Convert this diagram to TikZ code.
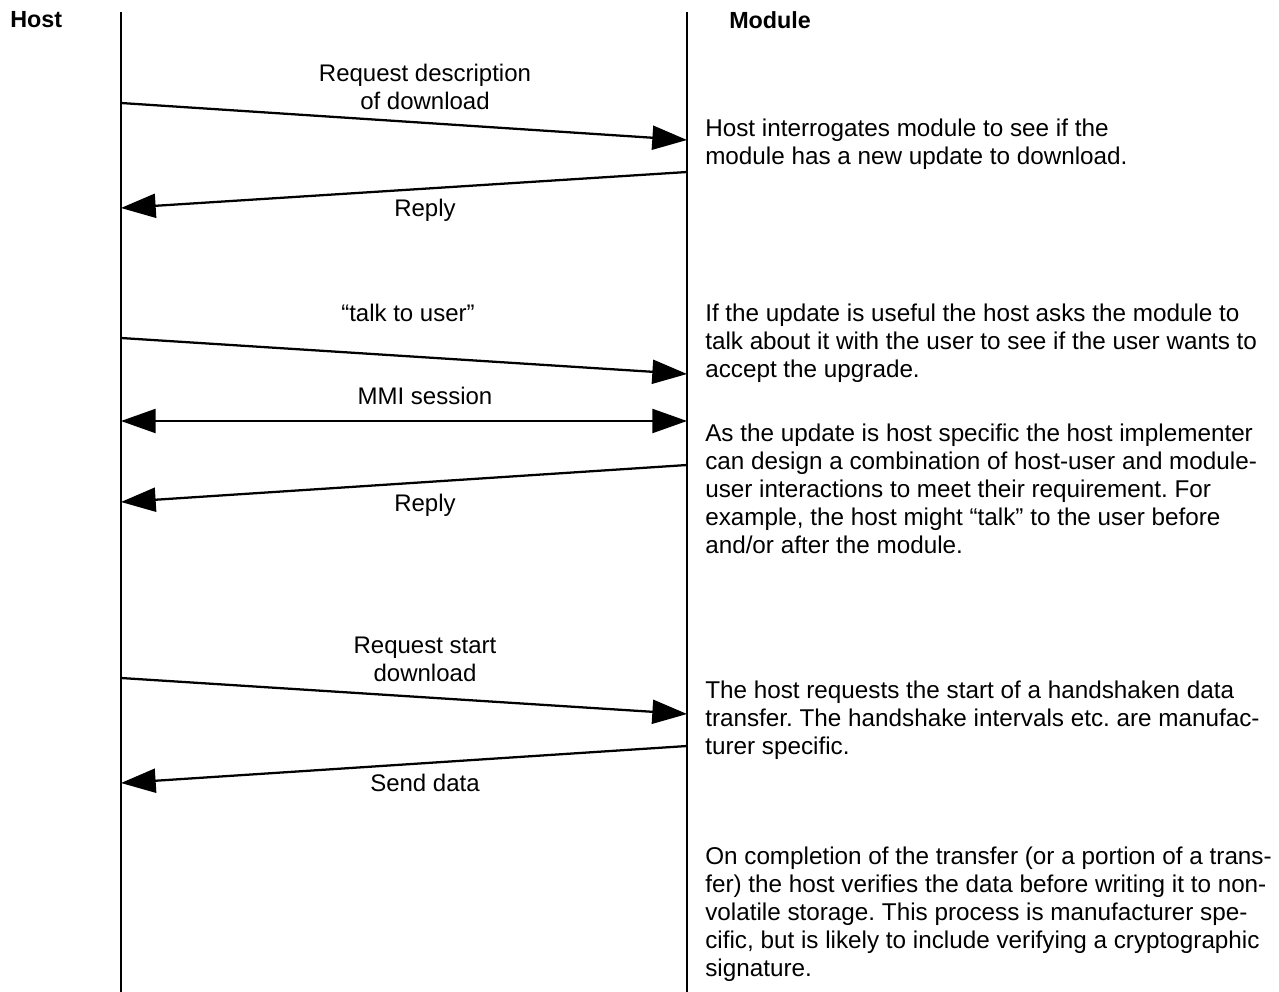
\documentclass[tikz,border=0pt]{standalone}
\usepackage{fontspec}
\setmainfont{Liberation Sans}
\frenchspacing
\usepackage{tikz}
\usetikzlibrary{positioning,arrows.meta}

\begin{document}
\begin{tikzpicture}[
        x=0.75pt, y=-0.75pt,
        >={Triangle[length=26pt, width=18pt]},
        lifeline/.style={line width=1.7pt},
        msg/.style={->, line width=1.7pt},
        lbl/.style={anchor=north, align=center, inner sep=0pt, font=\fontsize{18}{21}\selectfont},
        note/.style={anchor=north west, align=left, inner sep=0pt, font=\fontsize{18.2}{21}\selectfont},
        head/.style={anchor=north west, inner sep=0pt, font=\fontsize{17.5}{21}\selectfont\bfseries}
      ]
      \useasboundingbox (0,0) rectangle (1279,992);

      % Headers
      \node[head] (host) at (10, 11) {Host};
      \node[head] (module) at (729, 11) {Module};

      % Lifelines
      \coordinate (hosttop) at (121, 12);
      \coordinate (hostbot) at (121, 992);
      \coordinate (modtop) at (687, 12);
      \coordinate (modbot) at (687, 992);
      \draw[lifeline] (hosttop) -- (hostbot);
      \draw[lifeline] (modtop) -- (modbot);

      % Message end points
      \coordinate (h1) at (121, 103);  \coordinate (m1) at (687, 140);
      \coordinate (m2) at (687, 172);  \coordinate (h2) at (121, 208);
      \coordinate (h3) at (121, 338);  \coordinate (m3) at (687, 374);
      \coordinate (h4) at (121, 421);  \coordinate (m4) at (687, 421);
      \coordinate (m5) at (687, 465);  \coordinate (h5) at (121, 502);
      \coordinate (h6) at (121, 678);  \coordinate (m6) at (687, 714);
      \coordinate (m7) at (687, 746);  \coordinate (h7) at (121, 783);

      % Messages
      \draw[msg] (h1) -- (m1);
      \draw[msg] (m2) -- (h2);
      \draw[msg] (h3) -- (m3);
      \draw[msg, <->] (h4) -- (m4);
      \draw[msg] (m5) -- (h5);
      \draw[msg] (h6) -- (m6);
      \draw[msg] (m7) -- (h7);

      % Message labels
      \node[lbl] (askdesc) at (425, 64) {Request description\\of download};
      \node[lbl] (reply1) at (425, 199) {Reply};
      \node[lbl] (talk) at (408, 304) {“talk to user”};
      \node[lbl] (mmi) at (425, 387) {MMI session};
      \node[lbl] (reply2) at (425, 494) {Reply};
      \node[lbl] (askstart) at (425, 637) {Request start\\download};
      \node[lbl] (senddata) at (425, 774) {Send data};

      % Notes
      \node[note] (note1) at (705, 119) {Host interrogates module to see if the\\module has a new update to download.};
      \node[note] (note2) at (705, 304) {If the update is useful the host asks the module to\\talk about it with the user to see if the user wants to\\accept the upgrade.};
      \node[note] (note3) at (705, 424) {As the update is host specific the host implementer\\can design a combination of host-user and module-\\user interactions to meet their requirement. For\\example, the host might “talk” to the user before\\and/or after the module.};
      \node[note] (note4) at (705, 681) {The host requests the start of a handshaken data\\transfer. The handshake intervals etc. are manufac-\\turer specific.};
      \node[note] (note5) at (705, 847) {On completion of the transfer (or a portion of a trans-\\fer) the host verifies the data before writing it to non-\\volatile storage. This process is manufacturer spe-\\cific, but is likely to include verifying a cryptographic\\signature.};

    \end{tikzpicture}
\end{document}
